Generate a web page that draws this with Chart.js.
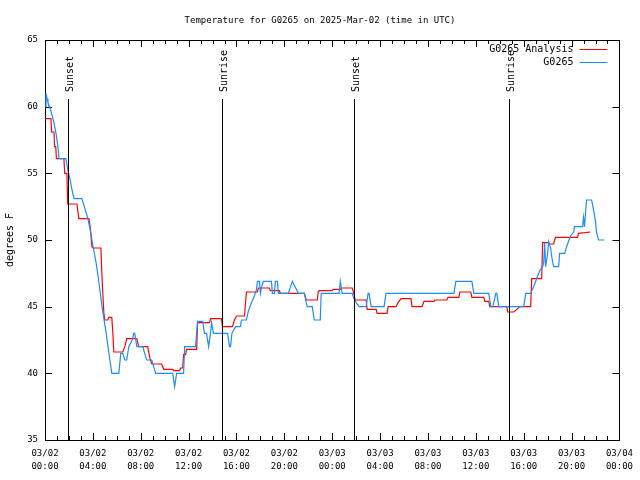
<!DOCTYPE html>
<html><head><meta charset="utf-8">
<script src="https://cdn.jsdelivr.net/npm/chart.js@4.4.1/dist/chart.umd.min.js"></script>
<style>html,body{margin:0;padding:0;background:#fff}</style>
</head><body>
<canvas id="c" width="640" height="480"></canvas>
<script>
const titleText = 'Temperature for G0265 on 2025-Mar-02 (time in UTC)';
const yAxisTitle = 'degrees F';
const xTickDates = ['03/02','03/02','03/02','03/02','03/02','03/02','03/03','03/03','03/03','03/03','03/03','03/03','03/04'];
const xTickTimes = ['00:00','04:00','08:00','12:00','16:00','20:00','00:00','04:00','08:00','12:00','16:00','20:00','00:00'];
const yTicks = [35, 40, 45, 50, 55, 60, 65];
const seriesNames = ['G0265 Analysis', 'G0265'];
const seriesColors = ['#ff0000', '#1a8cff'];
const sunLabels = ['Sunset', 'Sunrise', 'Sunset', 'Sunrise'];
const sunHours = [1.92, 14.83, 25.83, 38.75];

// hours since 03/02 00:00 UTC
const analysisHours = [0.00,0.50,0.55,0.75,0.80,0.90,0.95,1.58,1.65,1.83,1.90,2.67,2.75,2.83,3.67,3.80,3.92,4.00,4.67,4.75,4.83,4.92,5.00,5.25,5.33,5.58,5.67,5.75,6.50,6.67,6.83,7.67,7.83,8.58,8.75,8.92,9.75,9.92,10.67,10.75,11.25,11.33,11.50,11.58,11.75,11.83,12.67,12.75,13.75,13.83,14.75,14.83,15.67,15.83,16.00,16.67,16.83,17.75,17.83,18.75,18.83,19.58,19.67,21.67,21.83,22.75,22.83,22.92,24.00,24.08,24.67,24.75,25.67,25.83,25.92,26.83,26.92,27.67,27.75,28.58,28.67,29.33,29.50,29.75,30.58,30.67,31.50,31.67,32.50,32.58,33.58,33.67,34.58,34.67,35.58,35.67,36.67,36.75,37.08,37.17,38.58,38.67,39.17,39.42,39.67,40.58,40.67,41.50,41.58,42.08,42.17,42.50,42.58,42.67,44.50,44.58,45.58];
const analysisTemps = [59.1,59.1,58.1,58.1,57.0,57.0,56.1,56.1,55.0,55.0,52.7,52.7,52.1,51.6,51.6,50.8,49.5,49.4,49.4,47.5,46.0,44.5,44.0,44.0,44.2,44.2,43.0,41.6,41.6,42.0,42.6,42.6,42.0,42.0,41.2,40.7,40.7,40.3,40.3,40.2,40.2,40.4,40.4,41.4,41.4,41.8,41.8,43.8,43.8,44.1,44.1,43.5,43.5,44.0,44.3,44.3,46.1,46.1,46.4,46.4,46.2,46.2,46.0,46.0,45.5,45.5,46.1,46.2,46.2,46.3,46.3,46.4,46.4,45.9,45.5,45.5,44.8,44.8,44.5,44.5,45.0,45.0,45.3,45.6,45.6,45.0,45.0,45.4,45.4,45.5,45.5,45.7,45.7,46.1,46.1,45.7,45.7,45.4,45.4,45.0,45.0,44.6,44.6,44.8,45.0,45.0,47.1,47.1,49.8,49.8,49.7,49.7,50.0,50.2,50.2,50.5,50.6];

const obsHours = [0.00,0.08,0.17,0.25,0.42,0.58,0.75,0.92,1.08,1.17,1.75,1.92,2.08,2.25,2.42,3.08,3.25,3.42,3.58,3.75,3.92,4.08,4.25,4.42,4.58,4.75,4.92,5.08,5.25,5.42,5.58,6.17,6.33,6.50,6.67,6.83,7.00,7.17,7.33,7.42,7.50,7.67,8.17,8.33,8.50,8.92,9.08,9.25,10.67,10.83,11.00,11.58,11.67,12.58,12.75,13.17,13.33,13.50,13.67,13.83,13.92,14.08,15.25,15.42,15.50,15.62,15.92,16.33,16.42,16.83,17.00,17.25,17.50,17.67,17.75,17.92,18.00,18.08,18.25,18.92,19.00,19.17,19.25,19.42,19.50,20.33,20.67,21.17,21.67,21.83,21.92,22.33,22.50,23.00,23.08,24.58,24.67,24.83,25.67,25.83,26.00,26.25,26.83,27.00,27.08,27.25,28.33,28.50,34.17,34.33,35.67,35.83,37.08,37.25,37.42,37.67,37.75,37.92,40.00,40.17,40.58,40.83,41.08,41.33,41.58,41.67,41.75,41.83,42.00,42.08,42.25,42.33,42.50,42.92,43.00,43.42,43.58,43.75,43.92,44.17,44.25,44.92,45.00,45.08,45.25,45.67,45.83,46.00,46.08,46.25,46.75];
const obsTemps = [60.0,61.0,60.6,60.3,59.9,59.4,58.8,58.0,57.0,56.1,56.1,55.2,54.6,53.8,53.1,53.1,52.6,52.1,51.6,50.9,50.0,49.2,48.4,47.4,46.3,45.1,44.1,43.2,42.1,41.0,40.0,40.0,41.5,41.5,41.0,41.0,42.0,42.3,42.6,43.0,43.0,42.0,42.0,41.5,41.0,41.0,40.5,40.0,40.0,39.0,40.0,40.0,42.0,42.0,43.9,43.9,43.0,43.0,42.0,43.0,43.8,43.0,43.0,42.0,42.0,43.0,43.5,43.5,44.0,44.0,44.7,45.3,45.8,46.3,46.9,46.9,46.0,46.4,46.9,46.9,46.0,46.0,46.9,46.9,46.0,46.0,46.9,46.0,46.0,45.3,45.0,45.0,44.0,44.0,46.0,46.0,46.9,46.0,46.0,45.6,45.3,45.0,45.0,46.0,46.0,45.0,45.0,46.0,46.0,46.9,46.9,46.0,46.0,45.0,45.0,46.0,46.0,45.0,45.0,46.0,46.0,46.5,47.1,47.7,48.0,48.3,49.8,48.0,49.0,49.9,49.4,48.8,48.0,48.0,49.0,49.0,49.5,49.9,50.3,50.6,51.0,51.0,51.7,51.0,53.0,53.0,52.3,51.4,50.6,50.0,50.0];

const FONT = 'DejaVu Sans Mono';
const MAJOR = 7, MINOR = 4;

const decor = {
  id: 'decor',
  beforeDatasetsDraw(chart) {
    const {ctx, chartArea: a, scales: {x, y}} = chart;
    ctx.save();
    ctx.strokeStyle = '#000';
    ctx.lineWidth = 1;
    ctx.beginPath();
    for (let h = x.min; h <= x.max; h++) {
      const px = Math.round(x.getPixelForValue(h)) + 0.5;
      const len = (h % 4 === 0) ? MAJOR : MINOR;
      ctx.moveTo(px, a.bottom); ctx.lineTo(px, a.bottom - len);
      ctx.moveTo(px, a.top); ctx.lineTo(px, a.top + len);
    }
    yTicks.forEach(v => {
      const py = Math.round(y.getPixelForValue(v)) + 0.5;
      ctx.moveTo(a.left, py); ctx.lineTo(a.left + MAJOR, py);
      ctx.moveTo(a.right, py); ctx.lineTo(a.right - MAJOR, py);
    });
    ctx.stroke();
    ctx.strokeRect(Math.round(a.left) + 0.5, Math.round(a.top) + 0.5,
                   Math.round(a.right - a.left), Math.round(a.bottom - a.top));
    ctx.restore();
  },
  afterDatasetsDraw(chart) {
    const {ctx, chartArea: a, scales: {x, y}} = chart;
    ctx.save();
    ctx.strokeStyle = '#000';
    ctx.lineWidth = 1;
    ctx.font = '10px "' + FONT + '"';
    ctx.fillStyle = '#000';
    sunHours.forEach((h, i) => {
      const px = Math.round(x.getPixelForValue(h)) + 0.5;
      ctx.beginPath();
      ctx.moveTo(px, a.top + 59); ctx.lineTo(px, a.bottom);
      ctx.stroke();
      ctx.save();
      ctx.translate(px + 1.5, a.top + 52);
      ctx.rotate(-Math.PI / 2);
      ctx.textAlign = 'left';
      ctx.textBaseline = 'middle';
      ctx.fillText(sunLabels[i], 0, 0);
      ctx.restore();
    });
    // key
    const rows = [a.top + 9, a.top + 22];
    seriesNames.forEach((name, i) => {
      ctx.textAlign = 'right';
      ctx.textBaseline = 'middle';
      ctx.fillStyle = '#000';
      ctx.fillText(name, a.right - 46, rows[i]);
      ctx.strokeStyle = seriesColors[i];
      ctx.beginPath();
      ctx.moveTo(a.right - 40, rows[i] + 0.5);
      ctx.lineTo(a.right - 12, rows[i] + 0.5);
      ctx.stroke();
    });
    ctx.restore();
  }
};

new Chart(document.getElementById('c'), {
  type: 'line',
  data: {
    datasets: [
      {
        label: seriesNames[0],
        data: analysisHours.map((h, i) => ({x: h, y: analysisTemps[i]})),
        borderColor: seriesColors[0], borderWidth: 1.2, pointRadius: 0,
        tension: 0, fill: false, order: 2
      },
      {
        label: seriesNames[1],
        data: obsHours.map((h, i) => ({x: h, y: obsTemps[i]})),
        borderColor: seriesColors[1], borderWidth: 1.2, pointRadius: 0,
        tension: 0, fill: false, order: 1
      }
    ]
  },
  options: {
    responsive: false,
    devicePixelRatio: 1,
    animation: false,
    layout: {padding: 0},
    plugins: {
      legend: {display: false},
      tooltip: {enabled: false},
      title: {
        display: true, text: titleText, color: '#000',
        font: {family: FONT, size: 9, weight: 'normal', lineHeight: 1.2},
        padding: {top: 15, bottom: 14.2}
      }
    },
    scales: {
      x: {
        type: 'linear', position: 'bottom', min: 0, max: 48,
        afterFit: s => { s.height = 40; },
        grid: {display: false, drawTicks: false},
        border: {display: false},
        ticks: {
          stepSize: 4, autoSkip: false, maxRotation: 0, padding: 7,
          color: '#000', font: {family: FONT, size: 9, lineHeight: 13 / 9},
          callback: (v, i) => [xTickDates[i], xTickTimes[i]]
        }
      },
      y: {
        position: 'left', min: 35, max: 65,
        afterFit: s => { s.width = 45; },
        grid: {display: false, drawTicks: false},
        border: {display: false},
        ticks: {
          stepSize: 5, padding: 7, color: '#000',
          font: {family: FONT, size: 9}
        },
        title: {
          display: true, text: yAxisTitle, color: '#000',
          font: {family: FONT, size: 10, lineHeight: 1.2},
          padding: {top: 4, bottom: 0}
        }
      },
      yRight: {
        position: 'right', min: 35, max: 65,
        afterFit: s => { s.width = 19; },
        grid: {display: false, drawTicks: false},
        border: {display: false},
        ticks: {display: false}
      }
    }
  },
  plugins: [decor]
});
</script>
</body></html>
